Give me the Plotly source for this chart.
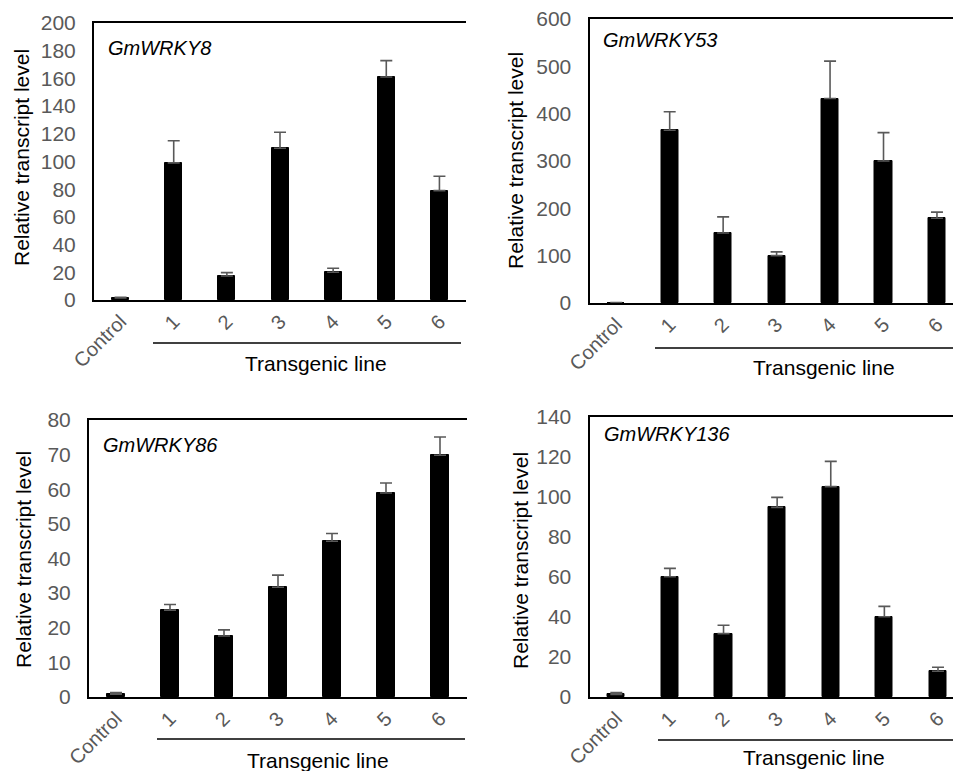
import plotly.graph_objects as go

categories = ["Control", "1", "2", "3", "4", "5", "6"]

genes = ["GmWRKY8", "GmWRKY53", "GmWRKY86", "GmWRKY136"]

wrky8_vals = [1.5, 99, 17.3, 109.6, 20, 161, 79]
wrky8_err = [0.4, 16, 2.5, 11.5, 2.9, 11.8, 10.4]

wrky53_vals = [1, 365, 148, 100, 432, 300, 179]
wrky53_err = [0, 39, 34, 8, 79, 60, 13]

wrky86_vals = [0.8, 25.1, 17.6, 31.7, 45, 58.9, 69.8]
wrky86_err = [0.45, 1.6, 1.8, 3.5, 2.2, 2.9, 5.3]

wrky136_vals = [1.3, 60.1, 31.7, 94.8, 105.2, 40.1, 12.9]
wrky136_err = [0.9, 4.2, 4.2, 5.0, 12.6, 5.2, 2.0]

y_ranges = [[0, 200], [0, 600], [0, 80], [0, 140]]
y_dticks = [20, 100, 10, 20]

W, H = 953, 771
FONT = "Liberation Sans, Arial, sans-serif"
GRAY = "#595959"

panels = [
    dict(px=(94, 466), py=(23, 300), xend=6.5),
    dict(px=(589.5, 953), py=(19, 303), xend=6.3),
    dict(px=(89, 467), py=(420, 697), xend=6.5),
    dict(px=(589.5, 953), py=(417, 697), xend=6.28),
]

series = [(wrky8_vals, wrky8_err), (wrky53_vals, wrky53_err),
          (wrky86_vals, wrky86_err), (wrky136_vals, wrky136_err)]

fig = go.Figure()
layout = {}
annotations = []
shapes = []

for i, (p, (vals, errs)) in enumerate(zip(panels, series)):
    n = i + 1
    xa = "x" if n == 1 else f"x{n}"
    ya = "y" if n == 1 else f"y{n}"
    fig.add_trace(go.Bar(
        x=list(range(len(categories))), y=vals,
        xaxis=xa, yaxis=ya,
        width=0.32,
        marker=dict(color="black", line=dict(color="black", width=1)),
        error_y=dict(type="data", array=errs, arrayminus=[0] * len(errs),
                     symmetric=False, color=GRAY, thickness=1.6, width=6),
        showlegend=False,
    ))
    l, r = p["px"]
    t, b = p["py"]
    layout[f"xaxis{'' if n == 1 else n}"] = dict(
        domain=[l / W, r / W], anchor=ya, range=[-0.5, p["xend"]],
        tickmode="array", tickvals=list(range(len(categories))), ticktext=categories,
        tickangle=-45, tickfont=dict(family=FONT, size=20, color=GRAY),
        showline=True, linecolor="black", linewidth=2, mirror=True,
        showgrid=False, zeroline=False, ticks="", fixedrange=True, automargin=False,
    )
    layout[f"yaxis{'' if n == 1 else n}"] = dict(
        domain=[1 - b / H, 1 - t / H], anchor=xa, range=y_ranges[i], dtick=y_dticks[i],
        tickfont=dict(family=FONT, size=21, color=GRAY),
        showline=True, linecolor="black", linewidth=2, mirror=False,
        showgrid=False, zeroline=False, ticks="", ticklabelstandoff=12, automargin=False,
    )

gene_pos = [(106, 48), (601, 40), (101, 445), (602, 434)]
for g, (gx, gy) in zip(genes, gene_pos):
    annotations.append(dict(text=f"<i>{g}</i>", x=gx / W, y=1 - gy / H, xref="paper", yref="paper",
                            xanchor="left", yanchor="middle", showarrow=False,
                            font=dict(family=FONT, size=20, color="black")))

ytitle_pos = [(22, 158), (515, 161), (23, 560), (520, 561)]
for (tx, ty) in ytitle_pos:
    annotations.append(dict(text="Relative transcript level", x=tx / W, y=1 - ty / H,
                            xref="paper", yref="paper", xanchor="center", yanchor="middle",
                            textangle=-90, showarrow=False,
                            font=dict(family=FONT, size=21, color="black")))

bracket = [((153, 461), 343), ((655, 953), 348), ((157, 465), 739), ((658, 953), 740)]
tl_pos = [(316, 363), (824, 367), (318, 760), (814, 757)]
for (bx, by), (tx, ty) in zip(bracket, tl_pos):
    shapes.append(dict(type="line", xref="paper", yref="paper",
                       x0=bx[0] / W, x1=bx[1] / W, y0=1 - by / H, y1=1 - by / H,
                       line=dict(color="black", width=1.6)))
    annotations.append(dict(text="Transgenic line", x=tx / W, y=1 - ty / H,
                            xref="paper", yref="paper", xanchor="center", yanchor="middle",
                            showarrow=False, font=dict(family=FONT, size=21, color="black")))

fig.update_layout(
    width=W, height=H, margin=dict(l=0, r=0, t=0, b=0, autoexpand=False),
    paper_bgcolor="white", plot_bgcolor="white",
    annotations=annotations, shapes=shapes, bargap=0,
    **layout,
)

fig.write_html("out.html", config={"displayModeBar": False})
